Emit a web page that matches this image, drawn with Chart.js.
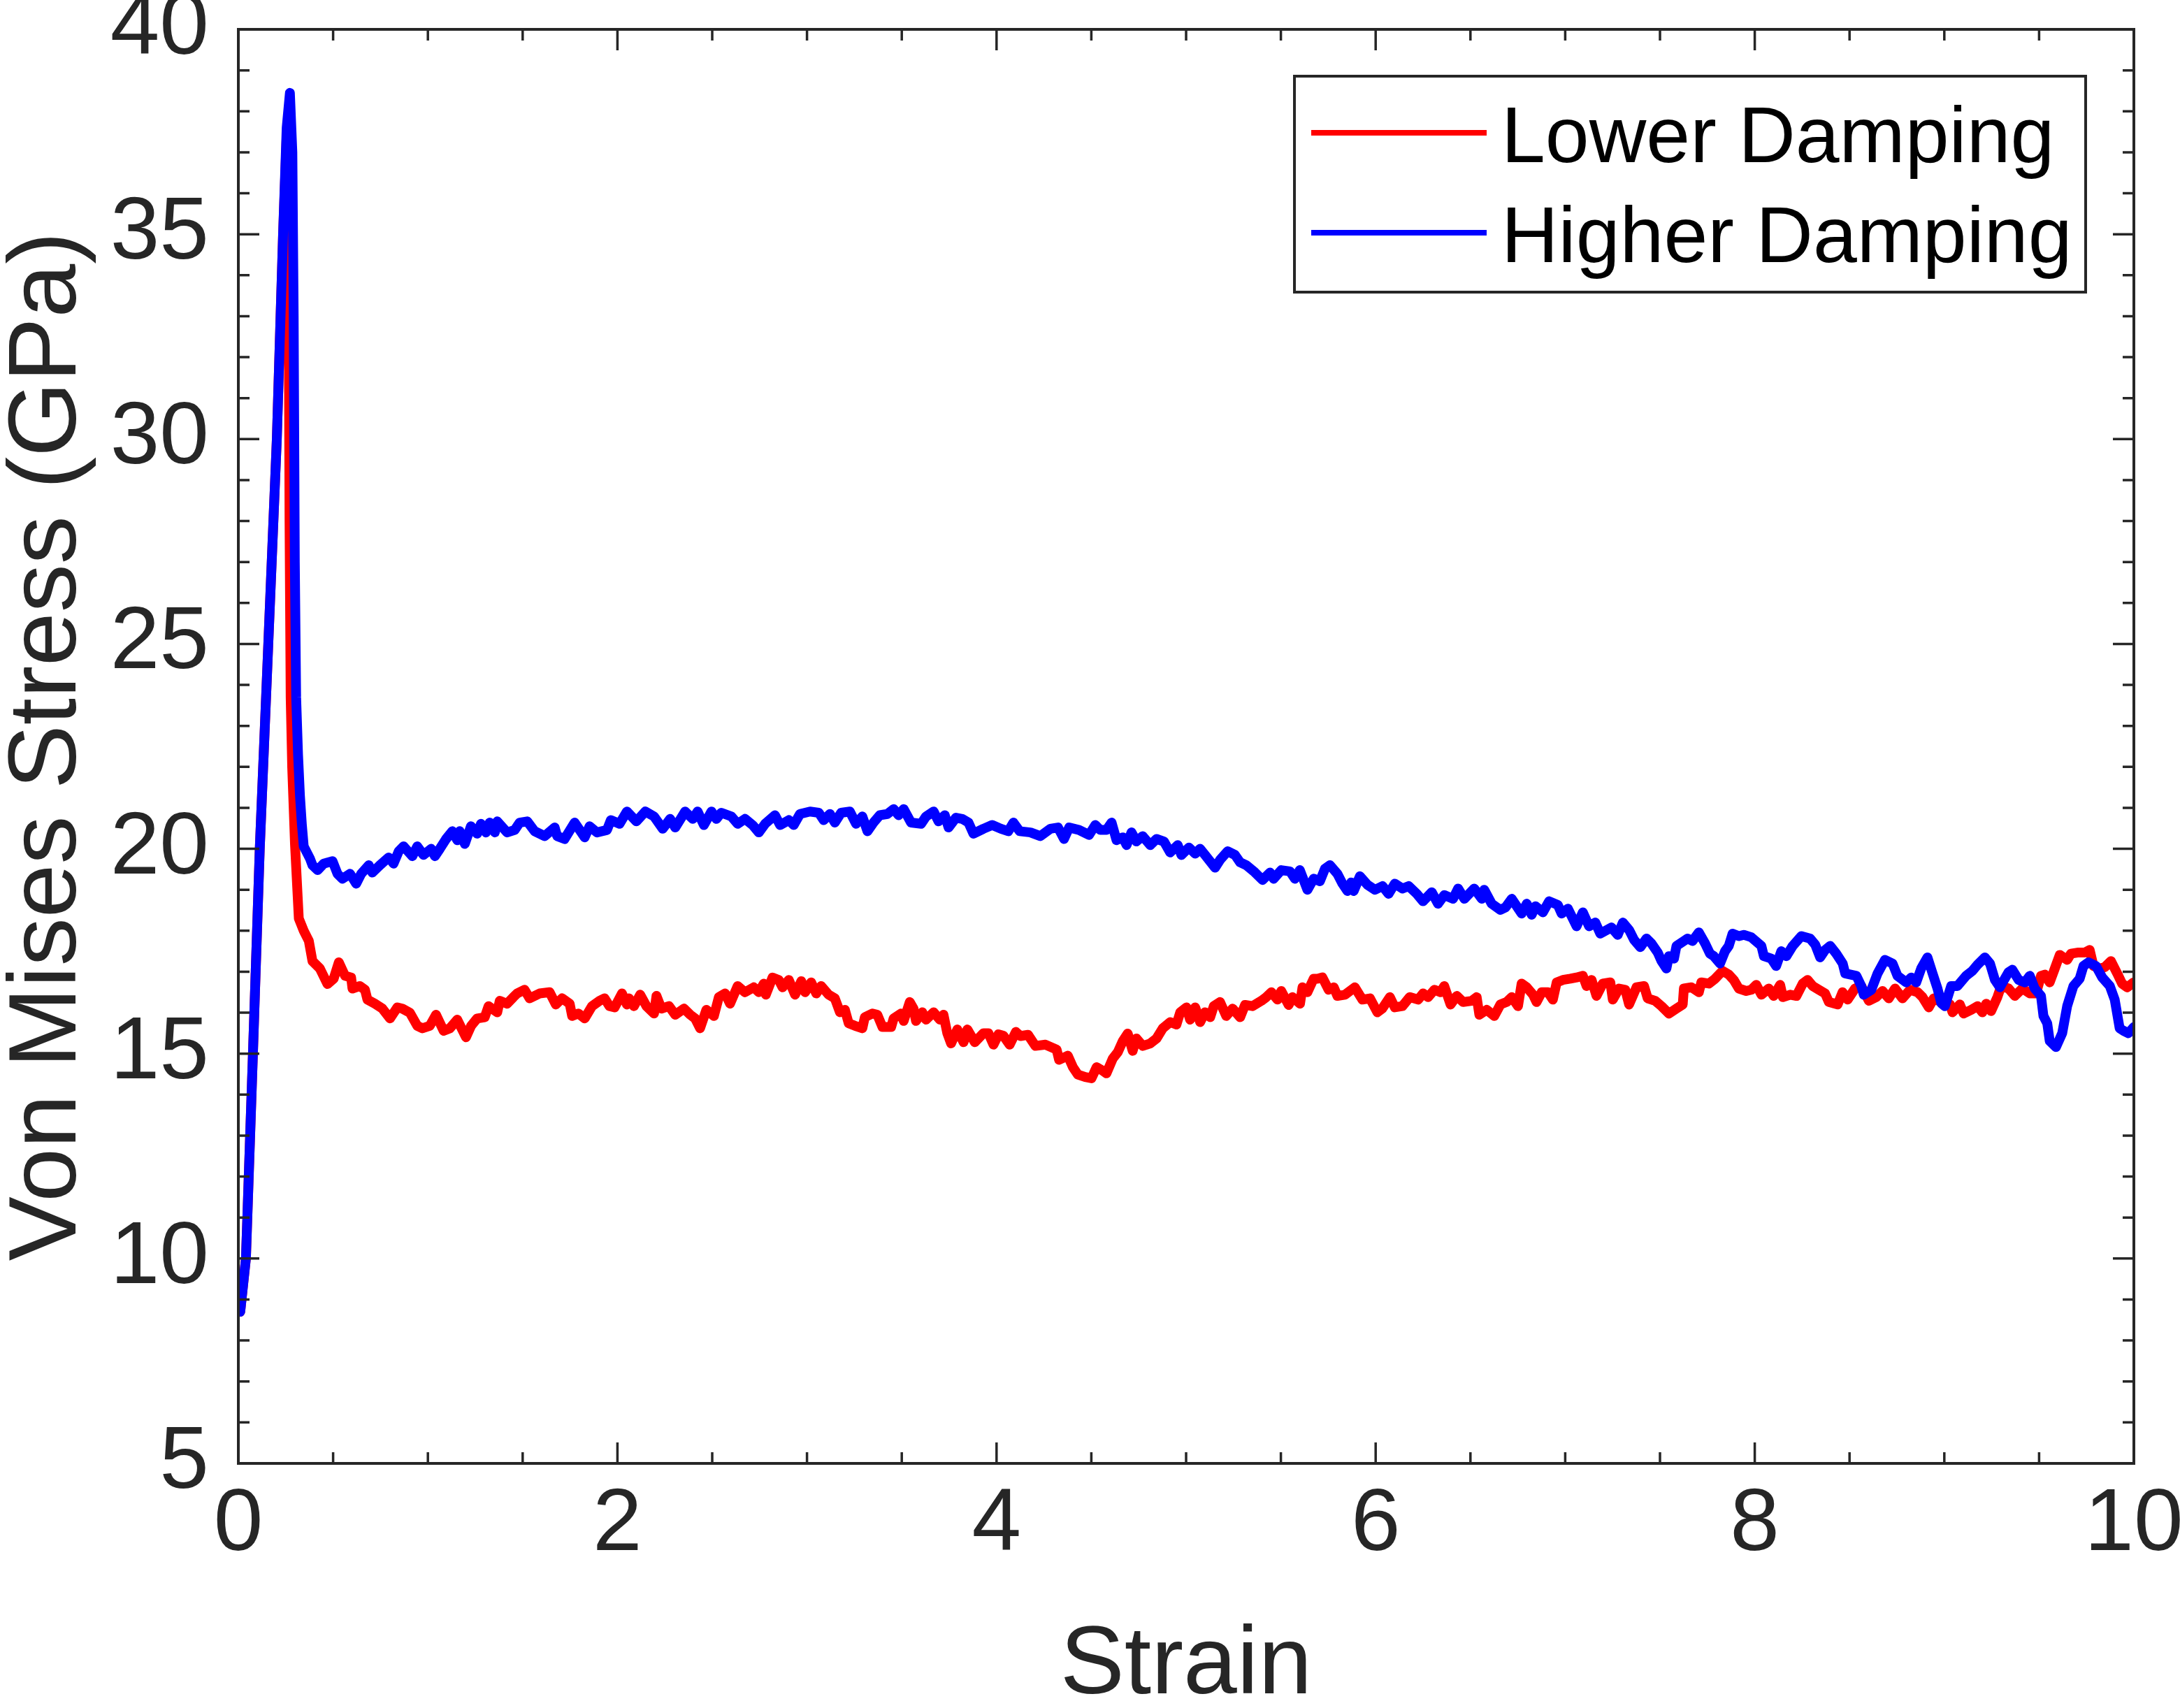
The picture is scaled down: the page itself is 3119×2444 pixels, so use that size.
<!DOCTYPE html>
<html>
<head>
<meta charset="utf-8">
<script src="https://cdn.jsdelivr.net/npm/chart.js@4.4.1/dist/chart.umd.min.js"></script>
<style>
  html, body { margin: 0; padding: 0; background: #fff; }
  #wrap { width: 3119px; height: 2444px; }
</style>
</head>
<body>
<div id="wrap"><canvas id="chart" width="3119" height="2444"></canvas></div>
<script>
"use strict";

// strain (x) and von Mises stress in GPa (y)
const strainLower = [0.010,0.040,0.077,0.113,0.158,0.203,0.236,0.255,0.262,0.266,0.270,0.276,0.284,0.299,0.319,0.345,0.372,0.391,0.43,0.47,0.503,0.53,0.563,0.595,0.602,0.641,0.668,0.681,0.72,0.76,0.80,0.839,0.865,0.905,0.944,0.971,1.01,1.043,1.083,1.116,1.155,1.201,1.228,1.26,1.30,1.32,1.366,1.379,1.418,1.451,1.471,1.51,1.537,1.59,1.642,1.675,1.708,1.748,1.761,1.794,1.827,1.866,1.906,1.932,1.958,1.985,2.024,2.05,2.061,2.087,2.12,2.153,2.193,2.206,2.232,2.272,2.305,2.351,2.384,2.41,2.436,2.469,2.509,2.535,2.568,2.594,2.634,2.673,2.719,2.746,2.772,2.783,2.818,2.851,2.871,2.904,2.937,2.97,2.99,3.022,3.049,3.075,3.114,3.147,3.174,3.2,3.22,3.253,3.292,3.305,3.345,3.371,3.398,3.444,3.457,3.496,3.51,3.542,3.562,3.575,3.608,3.628,3.668,3.701,3.72,3.74,3.76,3.793,3.826,3.846,3.885,3.931,3.957,3.984,4.01,4.036,4.069,4.102,4.126,4.166,4.205,4.258,4.317,4.33,4.376,4.403,4.429,4.468,4.501,4.528,4.561,4.58,4.613,4.64,4.666,4.692,4.718,4.738,4.771,4.811,4.844,4.877,4.916,4.949,4.969,5.002,5.021,5.048,5.074,5.1,5.127,5.146,5.179,5.212,5.245,5.285,5.311,5.35,5.397,5.423,5.45,5.482,5.502,5.541,5.561,5.601,5.614,5.64,5.673,5.693,5.719,5.752,5.779,5.798,5.838,5.89,5.93,5.97,6.009,6.035,6.075,6.101,6.141,6.18,6.224,6.25,6.277,6.31,6.342,6.362,6.395,6.428,6.461,6.507,6.533,6.547,6.586,6.626,6.658,6.691,6.718,6.751,6.77,6.797,6.83,6.849,6.876,6.909,6.935,6.955,6.988,7.027,7.06,7.093,7.113,7.139,7.165,7.198,7.238,7.251,7.284,7.317,7.337,7.376,7.416,7.435,7.475,7.508,7.547,7.587,7.62,7.626,7.666,7.705,7.718,7.758,7.791,7.83,7.863,7.889,7.916,7.955,7.982,8.008,8.035,8.074,8.1,8.134,8.148,8.187,8.22,8.253,8.279,8.306,8.338,8.371,8.391,8.437,8.463,8.49,8.529,8.562,8.602,8.641,8.674,8.707,8.74,8.779,8.819,8.859,8.885,8.918,8.944,8.984,9.03,9.043,9.082,9.102,9.142,9.175,9.201,9.221,9.247,9.28,9.3,9.339,9.372,9.412,9.451,9.484,9.51,9.53,9.556,9.583,9.609,9.648,9.668,9.708,9.741,9.767,9.787,9.82,9.846,9.879,9.912,9.938,9.965,9.998];
const stressLower = [8.7,10.0,15.0,20.0,25.0,30.0,35.0,37.4,37.8,33.0,28.0,23.7,22.0,20.1,18.3,18.0,17.75,17.26,17.08,16.7,16.83,17.23,16.9,16.86,16.59,16.65,16.56,16.32,16.22,16.1,15.86,16.13,16.1,16.0,15.68,15.62,15.68,15.95,15.56,15.62,15.83,15.4,15.68,15.86,15.89,16.16,16.01,16.29,16.22,16.38,16.47,16.56,16.35,16.47,16.5,16.2,16.35,16.22,15.92,15.98,15.86,16.16,16.29,16.35,16.16,16.13,16.47,16.2,16.35,16.16,16.44,16.16,15.98,16.41,16.1,16.16,15.95,16.1,15.95,15.86,15.62,16.07,15.92,16.38,16.47,16.22,16.65,16.5,16.62,16.5,16.71,16.44,16.86,16.8,16.62,16.8,16.44,16.77,16.5,16.74,16.47,16.65,16.44,16.35,16.01,16.07,15.74,15.68,15.62,15.89,15.98,15.95,15.65,15.65,15.86,15.98,15.8,16.26,16.1,15.8,16.01,15.83,16.01,15.83,15.95,15.5,15.25,15.59,15.28,15.59,15.28,15.5,15.5,15.22,15.47,15.44,15.22,15.53,15.43,15.46,15.19,15.22,15.1,14.85,14.95,14.67,14.49,14.43,14.4,14.67,14.58,14.52,14.88,15.04,15.31,15.49,15.07,15.37,15.19,15.25,15.37,15.62,15.77,15.71,16.01,16.13,15.83,16.13,15.77,16.01,15.89,16.16,16.26,15.92,16.1,15.89,16.19,16.16,16.29,16.38,16.5,16.32,16.53,16.19,16.38,16.22,16.62,16.5,16.83,16.83,16.86,16.56,16.62,16.41,16.44,16.62,16.32,16.35,16.01,16.1,16.38,16.13,16.16,16.38,16.32,16.47,16.38,16.56,16.5,16.65,16.2,16.41,16.26,16.29,16.38,15.95,16.07,15.92,16.2,16.26,16.38,16.16,16.71,16.62,16.44,16.26,16.5,16.5,16.32,16.74,16.8,16.83,16.86,16.9,16.65,16.8,16.41,16.71,16.74,16.32,16.59,16.56,16.2,16.62,16.65,16.35,16.29,16.16,15.98,16.1,16.2,16.59,16.62,16.5,16.74,16.71,16.83,17.02,16.93,16.8,16.59,16.53,16.56,16.68,16.44,16.59,16.41,16.68,16.38,16.44,16.41,16.71,16.8,16.65,16.56,16.47,16.26,16.2,16.5,16.32,16.59,16.65,16.29,16.38,16.53,16.35,16.59,16.35,16.56,16.5,16.38,16.13,16.35,16.26,16.2,16.01,16.2,15.98,16.07,16.16,16.01,16.22,16.04,16.38,16.65,16.59,16.41,16.59,16.47,16.47,16.9,16.93,16.74,17.08,17.41,17.29,17.44,17.47,17.47,17.53,17.14,17.08,17.11,17.26,16.96,16.71,16.62,16.74];

const strainHigher = [0.010,0.040,0.077,0.113,0.158,0.203,0.236,0.255,0.272,0.285,0.292,0.298,0.305,0.315,0.325,0.335,0.345,0.378,0.391,0.418,0.451,0.497,0.523,0.549,0.589,0.622,0.648,0.688,0.707,0.747,0.793,0.819,0.846,0.872,0.918,0.944,0.977,1.017,1.037,1.063,1.096,1.129,1.155,1.168,1.195,1.227,1.26,1.28,1.306,1.326,1.353,1.366,1.418,1.458,1.484,1.524,1.563,1.616,1.669,1.682,1.721,1.774,1.827,1.853,1.892,1.945,1.965,2.011,2.05,2.1,2.147,2.193,2.239,2.278,2.305,2.357,2.397,2.423,2.456,2.496,2.522,2.548,2.601,2.634,2.673,2.713,2.746,2.779,2.831,2.858,2.904,2.93,2.963,3.016,3.062,3.088,3.121,3.147,3.18,3.226,3.259,3.292,3.319,3.351,3.384,3.424,3.457,3.483,3.51,3.549,3.602,3.628,3.668,3.694,3.727,3.747,3.786,3.819,3.852,3.878,3.931,3.977,4.023,4.062,4.089,4.122,4.179,4.231,4.284,4.324,4.356,4.383,4.435,4.488,4.521,4.547,4.58,4.607,4.633,4.666,4.686,4.712,4.738,4.771,4.811,4.844,4.883,4.916,4.956,4.975,5.015,5.048,5.074,5.1,5.153,5.179,5.219,5.258,5.285,5.318,5.357,5.403,5.443,5.462,5.502,5.548,5.574,5.6,5.64,5.673,5.706,5.732,5.759,5.798,5.825,5.851,5.871,5.884,5.917,5.957,5.996,6.036,6.068,6.101,6.141,6.174,6.217,6.25,6.296,6.329,6.362,6.408,6.435,6.468,6.52,6.56,6.573,6.612,6.658,6.685,6.718,6.77,6.797,6.823,6.843,6.882,6.915,6.961,6.981,7.014,7.06,7.093,7.126,7.159,7.185,7.244,7.277,7.304,7.337,7.363,7.396,7.429,7.455,7.488,7.508,7.534,7.547,7.574,7.587,7.626,7.646,7.672,7.705,7.738,7.764,7.784,7.817,7.843,7.863,7.883,7.916,7.942,7.982,8.035,8.048,8.087,8.113,8.14,8.167,8.2,8.246,8.292,8.319,8.345,8.371,8.398,8.43,8.464,8.477,8.536,8.562,8.575,8.615,8.648,8.687,8.727,8.753,8.799,8.826,8.852,8.878,8.911,8.938,8.964,8.984,9.003,9.036,9.069,9.115,9.148,9.175,9.214,9.241,9.267,9.293,9.339,9.359,9.392,9.425,9.451,9.477,9.51,9.523,9.543,9.556,9.589,9.622,9.648,9.681,9.714,9.734,9.761,9.8,9.833,9.873,9.899,9.925,9.945,9.971,10.0];
const stressHigher = [8.7,10.0,15.0,20.0,25.0,30.0,35.0,37.6,38.45,37.0,33.0,27.0,23.7,22.3,21.3,20.6,20.06,19.76,19.6,19.48,19.64,19.7,19.39,19.27,19.39,19.15,19.39,19.6,19.42,19.6,19.79,19.64,19.94,20.06,19.82,20.06,19.85,20.0,19.82,20.0,20.24,20.43,20.21,20.43,20.12,20.55,20.37,20.61,20.4,20.64,20.4,20.67,20.4,20.46,20.64,20.67,20.43,20.31,20.52,20.31,20.24,20.64,20.28,20.55,20.4,20.46,20.7,20.61,20.91,20.67,20.91,20.79,20.49,20.73,20.52,20.91,20.73,20.91,20.58,20.91,20.73,20.88,20.79,20.61,20.73,20.58,20.4,20.61,20.82,20.58,20.7,20.58,20.85,20.91,20.88,20.7,20.85,20.64,20.88,20.91,20.61,20.79,20.43,20.64,20.82,20.85,20.97,20.82,20.97,20.64,20.61,20.79,20.91,20.67,20.82,20.52,20.76,20.73,20.64,20.37,20.49,20.58,20.49,20.43,20.64,20.43,20.4,20.31,20.49,20.52,20.24,20.52,20.46,20.34,20.58,20.46,20.46,20.64,20.21,20.28,20.09,20.4,20.18,20.31,20.09,20.24,20.18,19.91,20.09,19.85,20.03,19.88,20.0,19.85,19.54,19.73,19.94,19.85,19.67,19.6,19.45,19.24,19.42,19.27,19.48,19.45,19.27,19.48,19.0,19.27,19.21,19.51,19.6,19.39,19.15,18.97,19.18,18.97,19.33,19.12,19.0,19.09,18.9,19.15,19.03,19.09,18.9,18.72,18.94,18.66,18.87,18.78,19.03,18.78,19.03,18.78,19.0,18.66,18.51,18.57,18.78,18.42,18.66,18.39,18.6,18.45,18.72,18.63,18.42,18.54,18.11,18.45,18.11,18.2,17.93,18.08,17.9,18.2,18.02,17.78,17.6,17.81,17.69,17.47,17.26,17.08,17.38,17.32,17.63,17.75,17.81,17.75,17.96,17.69,17.44,17.38,17.2,17.5,17.63,17.93,17.87,17.9,17.84,17.63,17.38,17.32,17.14,17.5,17.38,17.63,17.87,17.81,17.66,17.35,17.53,17.63,17.44,17.2,16.96,16.9,16.65,16.44,16.56,16.96,17.29,17.2,16.9,16.74,16.86,16.74,17.08,17.35,16.96,16.59,16.23,16.16,16.65,16.65,16.9,17.02,17.17,17.35,17.2,16.8,16.62,16.99,17.05,16.8,16.74,16.9,16.59,16.41,15.92,15.74,15.31,15.16,15.5,16.16,16.65,16.83,17.14,17.23,17.14,16.86,16.65,16.32,15.62,15.56,15.5,15.65];

const seriesNames = ['Lower Damping', 'Higher Damping'];
const seriesColors = ['#ff0000', '#0000ff'];

const FONT = "'Liberation Sans', Arial, Helvetica, sans-serif";
const AXIS_COLOR = '#262626';

const toPoints = (xs, ys) => xs.map((x, i) => ({x: x, y: ys[i]}));

// MATLAB style box: inward ticks on all four sides, minor ticks in between
const axesBox = {
    id: 'axesBox',
    afterDatasetsDraw(chart) {
        const {ctx, chartArea: a, scales: {x, y}} = chart;
        ctx.save();
        ctx.strokeStyle = AXIS_COLOR;
        ctx.lineWidth = 3.5;
        ctx.beginPath();
        for (let i = 0; i <= 20; i++) {
            const px = x.getPixelForValue(i * 0.5);
            const len = (i % 4 === 0) ? 30 : 16;
            ctx.moveTo(px, a.bottom); ctx.lineTo(px, a.bottom - len);
            ctx.moveTo(px, a.top); ctx.lineTo(px, a.top + len);
        }
        for (let v = 5; v <= 40; v++) {
            const py = y.getPixelForValue(v);
            const len = (v % 5 === 0) ? 30 : 16;
            ctx.moveTo(a.left, py); ctx.lineTo(a.left + len, py);
            ctx.moveTo(a.right, py); ctx.lineTo(a.right - len, py);
        }
        ctx.stroke();
        ctx.lineWidth = 4;
        ctx.strokeRect(a.left, a.top, a.right - a.left, a.bottom - a.top);
        ctx.restore();
    }
};

const boxLegend = {
    id: 'boxLegend',
    afterDraw(chart) {
        const {ctx, chartArea: a} = chart;
        const w = 1132, h = 309;
        const left = a.right - 69 - w, top = a.top + 67;
        ctx.save();
        ctx.fillStyle = '#fff';
        ctx.fillRect(left, top, w, h);
        ctx.strokeStyle = AXIS_COLOR;
        ctx.lineWidth = 4;
        ctx.strokeRect(left, top, w, h);
        ctx.font = '113px ' + FONT;
        ctx.textBaseline = 'middle';
        ctx.textAlign = 'left';
        chart.data.datasets.forEach((ds, i) => {
            const ly = top + 81 + i * 143;
            ctx.strokeStyle = ds.borderColor;
            ctx.lineWidth = 8;
            ctx.beginPath();
            ctx.moveTo(left + 24, ly);
            ctx.lineTo(left + 275, ly);
            ctx.stroke();
            ctx.fillStyle = '#000';
            ctx.fillText(ds.label, left + 296, ly + 11);
        });
        ctx.restore();
    }
};

new Chart(document.getElementById('chart'), {
    type: 'line',
    data: {
        datasets: [
            {label: seriesNames[0], data: toPoints(strainLower, stressLower), borderColor: seriesColors[0], order: 2},
            {label: seriesNames[1], data: toPoints(strainHigher, stressHigher), borderColor: seriesColors[1], order: 1}
        ]
    },
    options: {
        responsive: false,
        animation: false,
        devicePixelRatio: 1,
        layout: {padding: {left: 0, top: 42, right: 66, bottom: 0}},
        elements: {
            point: {radius: 0},
            line: {borderWidth: 14, tension: 0, fill: false, borderJoinStyle: 'round', borderCapStyle: 'round'}
        },
        plugins: {legend: {display: false}, tooltip: {enabled: false}},
        scales: {
            x: {
                type: 'linear', min: 0, max: 10,
                grid: {display: false, drawTicks: false},
                border: {display: false},
                ticks: {stepSize: 2, padding: 13, maxRotation: 0, autoSkip: false, color: AXIS_COLOR, font: {family: FONT, size: 127}},
                title: {display: true, text: 'Strain', color: AXIS_COLOR, font: {family: FONT, size: 138, lineHeight: 1}, padding: {top: 0, bottom: -10}},
                afterFit(s) { s.height = 350; s.paddingLeft = 0; s.paddingRight = 0; }
            },
            y: {
                type: 'linear', min: 5, max: 40,
                grid: {display: false, drawTicks: false},
                border: {display: false},
                ticks: {stepSize: 5, padding: 42, color: AXIS_COLOR, font: {family: FONT, size: 127}},
                title: {display: true, text: 'Von Mises Stress (GPa)', color: AXIS_COLOR, font: {family: FONT, size: 138, lineHeight: 1}, padding: {top: 1, bottom: 0}},
                afterFit(s) { s.width = 341; s.paddingTop = 0; s.paddingBottom = 0; }
            }
        }
    },
    plugins: [axesBox, boxLegend]
});
</script>
</body>
</html>
